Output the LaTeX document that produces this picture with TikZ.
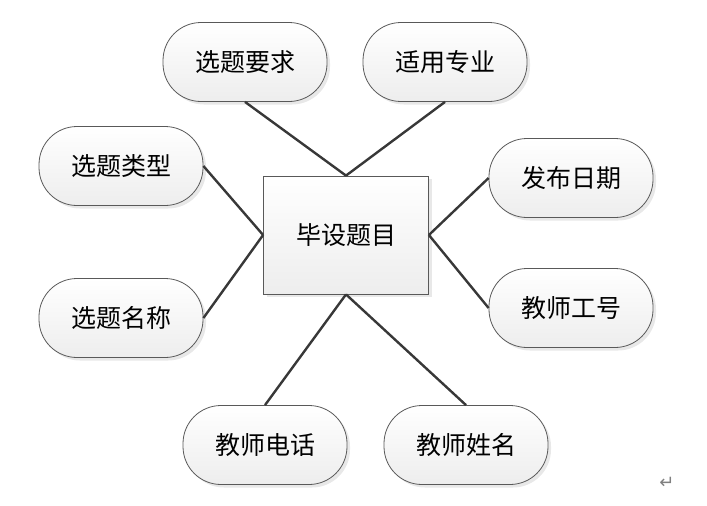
\documentclass[tikz,border=0pt]{standalone}
\usepackage{fontspec}
\newfontfamily\cjk{Noto Sans CJK SC}
\newfontfamily\symb{DejaVu Sans}
\usepackage{tikz}
\usetikzlibrary{shadows}

\begin{document}
\begin{tikzpicture}[x=1pt, y=-1pt,
		attr/.style={draw=gray!70!black, line width=0.8pt, rounded corners=38pt,
			minimum width=164pt, minimum height=79pt, top color=white, bottom color=gray!14,
			drop shadow={shadow xshift=3pt, shadow yshift=-3pt, fill=gray!35},
			font=\cjk\fontsize{25}{28}\selectfont},
		entity/.style={draw=gray!70!black, line width=0.8pt,
			minimum width=165pt, minimum height=118pt, top color=white, bottom color=gray!14,
			drop shadow={shadow xshift=3pt, shadow yshift=-3pt, fill=gray!35},
			font=\cjk\fontsize{25}{28}\selectfont},
		link/.style={draw=black!78, line width=2.4pt}]
	%Bildbereich
	\useasboundingbox (0,0) rectangle (707,506);
	% Entitaet
	\node[entity] (bstm) at (346,235) {毕设题目};
	% Attribute
	\node[attr] (xtyq) at (245,62) {选题要求};
	\node[attr] (syzy) at (445,62) {适用专业};
	\node[attr] (xtlx) at (121,166) {选题类型};
	\node[attr] (fbrq) at (571,178) {发布日期};
	\node[attr] (xtmc) at (121,318) {选题名称};
	\node[attr] (jsgh) at (571,308) {教师工号};
	\node[attr] (jsdh) at (265,445) {教师电话};
	\node[attr] (jsxm) at (466,445) {教师姓名};
	% Verbindungen
	\draw[link] (xtyq.south) -- (bstm.north);
	\draw[link] (syzy.south) -- (bstm.north);
	\draw[link] (xtlx.east) -- (bstm.west);
	\draw[link] (xtmc.east) -- (bstm.west);
	\draw[link] (fbrq.west) -- (bstm.east);
	\draw[link] (jsgh.west) -- (bstm.east);
	\draw[link] (jsdh.north) -- (bstm.south);
	\draw[link] (jsxm.north) -- (bstm.south);
	% Absatzmarke
	\node[text=gray, font=\symb\fontsize{18}{20}\selectfont] (mark) at (667,483) {↵};
\end{tikzpicture}
\end{document}
